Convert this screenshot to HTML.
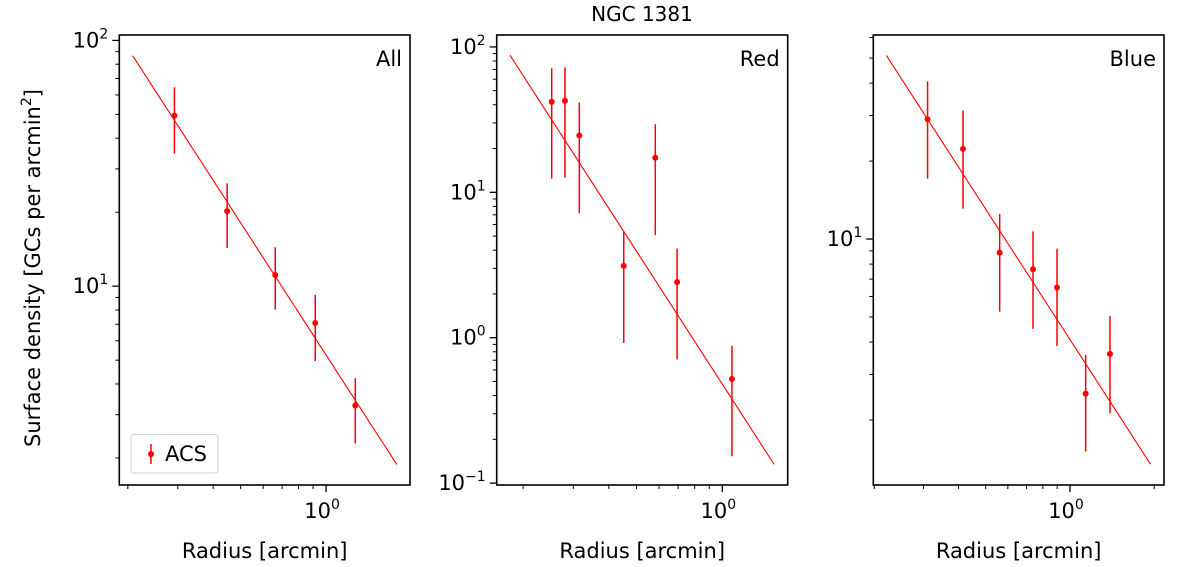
<!DOCTYPE html>
<html><head><meta charset="utf-8"><style>
html,body{margin:0;padding:0;background:#fff;}
svg{display:block;font-family:"DejaVu Sans","Liberation Sans",sans-serif;}
</style></head><body>
<svg id="fig" width="1200" height="567" viewBox="0 0 1200 567">
<text x="642" y="21" text-anchor="middle" font-size="20">NGC 1381</text>
<text transform="translate(40,268) rotate(-90)" text-anchor="middle" font-size="21">Surface density [GCs per arcmin<tspan dy="-9" font-size="14">2</tspan><tspan dy="9">]</tspan></text>
</svg>
<script>
// ---- data ----
const panelNames = ["All", "Red", "Blue"];
const allRadius = [0.292, 0.448, 0.662, 0.916, 1.268];
const allDensity = [49.4, 20.2, 11.1, 7.08, 3.27];
const allErrHigh = [64.4, 26.2, 14.4, 9.2, 4.22];
const allErrLow = [34.7, 14.3, 8.03, 4.96, 2.29];
const allFit = [0.720, -1.786]; // log10 intercept, slope
const allFitRange = [0.208, 1.776];

const redRadius = [0.252, 0.2805, 0.315, 0.451, 0.582, 0.694, 1.081];
const redDensity = [41.9, 42.6, 24.6, 3.12, 17.3, 2.41, 0.52];
const redErrHigh = [71.3, 72.4, 41.4, 5.33, 29.4, 4.10, 0.88];
const redErrLow = [12.4, 12.6, 7.18, 0.92, 5.09, 0.71, 0.153];
const redFit = [-0.319, -3.036];
const redFitRange = [0.180, 1.52];

const blueRadius = [0.310, 0.415, 0.561, 0.738, 0.899, 1.138, 1.39];
const blueDensity = [29.0, 22.3, 8.86, 7.64, 6.50, 2.53, 3.60];
const blueErrHigh = [40.6, 31.3, 12.5, 10.7, 9.18, 3.57, 5.05];
const blueErrLow = [17.1, 13.1, 5.24, 4.5, 3.86, 1.51, 2.12];
const blueFit = [0.612, -1.673];
const blueFitRange = [0.221, 1.94];

const xTickLabels = ["10", "0"];

// ---- layout ----
const NS = "http://www.w3.org/2000/svg";
const svg = document.getElementById("fig");
function mk(tag, attrs, parent) {
  const e = document.createElementNS(NS, tag);
  for (const k in attrs) e.setAttribute(k, attrs[k]);
  (parent || svg).appendChild(e);
  return e;
}
const panels = [
  {x0:119.3, x1:410, top:35, bot:485, xmin:Math.pow(10,-0.729), xmax:Math.pow(10,0.296), ymin:Math.pow(10,0.191), ymax:Math.pow(10,2.022),
   r:allRadius, d:allDensity, hi:allErrHigh, lo:allErrLow, fit:allFit, fr:allFitRange, legend:true},
  {x0:496.7, x1:787.7, top:35, bot:485, xmin:Math.pow(10,-0.7916), xmax:Math.pow(10,0.2295), ymin:Math.pow(10,-1.013), ymax:Math.pow(10,2.082),
   r:redRadius, d:redDensity, hi:redErrHigh, lo:redErrLow, fit:redFit, fr:redFitRange},
  {x0:873.3, x1:1164, top:35, bot:485, xmin:Math.pow(10,-0.7025), xmax:Math.pow(10,0.336), ymin:Math.pow(10,0.050), ymax:Math.pow(10,1.788),
   r:blueRadius, d:blueDensity, hi:blueErrHigh, lo:blueErrLow, fit:blueFit, fr:blueFitRange}
];
panels.forEach((p, i) => {
  const g = mk("g", {});
  
  
  const lx0 = Math.log10(p.xmin), lx1 = Math.log10(p.xmax), ly0 = Math.log10(p.ymin), ly1 = Math.log10(p.ymax);
  const X = v => p.x0 + (Math.log10(v) - lx0) / (lx1 - lx0) * (p.x1 - p.x0);
  const Y = v => p.bot - (Math.log10(v) - ly0) / (ly1 - ly0) * (p.bot - p.top);
  const fl = mk("line", {x1:X(p.fr[0]), y1:Y(Math.pow(10, p.fit[0] + p.fit[1]*Math.log10(p.fr[0]))),
    x2:X(p.fr[1]), y2:Y(Math.pow(10, p.fit[0] + p.fit[1]*Math.log10(p.fr[1]))), stroke:"#ff0000", "stroke-width":1.1}, g);
  
  
  p.r.forEach((rv, k) => {
    const eb = mk("line", {x1:X(rv), x2:X(rv), y1:Y(p.hi[k]), y2:Y(p.lo[k]), stroke:"#ff0000", "stroke-width":1.5}, g);
    
    
    const c = mk("circle", {cx:X(rv), cy:Y(p.d[k]), r:3, fill:"#ff0000"}, g);
    
    
  });
  for (let e = -2; e <= 2; e++) {
    for (let m = 1; m <= 9; m++) {
      const v = m * Math.pow(10, e);
      if (v >= p.xmin && v <= p.xmax) {
        const x = X(v), len = m === 1 ? 7 : 4;
        mk("line", {x1:x, x2:x, y1:p.bot, y2:p.bot+len, stroke:"#000", "stroke-width":m===1?1.3:1}, g);
        if (m === 1) {
          const t = mk("text", {x:x-4, y:p.bot+33, "text-anchor":"middle", "font-size":21}, g);
          t.textContent = xTickLabels[0];
          const s = mk("tspan", {dy:-9, "font-size":14}, t);
          s.textContent = String(e);
          
          
        }
      }
      if (v >= p.ymin && v <= p.ymax) {
        const y = Y(v), len = m === 1 ? 7 : 4;
        mk("line", {x1:p.x0, x2:p.x0-len, y1:y, y2:y, stroke:"#000", "stroke-width":m===1?1.3:1}, g);
        if (m === 1) {
          const t = mk("text", {x:p.x0-11, y:y+7, "text-anchor":"end", "font-size":21}, g);
          t.textContent = "10";
          const s = mk("tspan", {dy:-9, "font-size":14}, t);
          s.textContent = e < 0 ? "\u2212" + (-e) : String(e);
          
          
        }
      }
    }
  }
  const fr = mk("rect", {x:p.x0, y:p.top, width:p.x1-p.x0, height:p.bot-p.top, fill:"none", stroke:"#000", "stroke-width":1.6}, g);
  
  
  const pl = mk("text", {x:p.x1-8, y:p.top+31, "text-anchor":"end", "font-size":21}, g);
  pl.textContent = panelNames[i];
  
  
  const xl = mk("text", {x:(p.x0+p.x1)/2, y:558, "text-anchor":"middle", "font-size":21}, g);
  xl.textContent = "Radius [arcmin]";
  
  
  if (p.legend) {
    const lg = mk("g", {}, g);
    
    
    mk("rect", {x:131, y:434.5, width:87, height:38.5, rx:3, fill:"#fff", stroke:"#d0d0d0", "stroke-width":1}, lg);
    mk("line", {x1:151, x2:151, y1:444, y2:464, stroke:"#ff0000", "stroke-width":1.5}, lg);
    mk("circle", {cx:151, cy:454, r:3, fill:"#ff0000"}, lg);
    const lt = mk("text", {x:165, y:461, "font-size":21}, lg);
    lt.textContent = "ACS";
    
    
  }
});
</script>
</body></html>
